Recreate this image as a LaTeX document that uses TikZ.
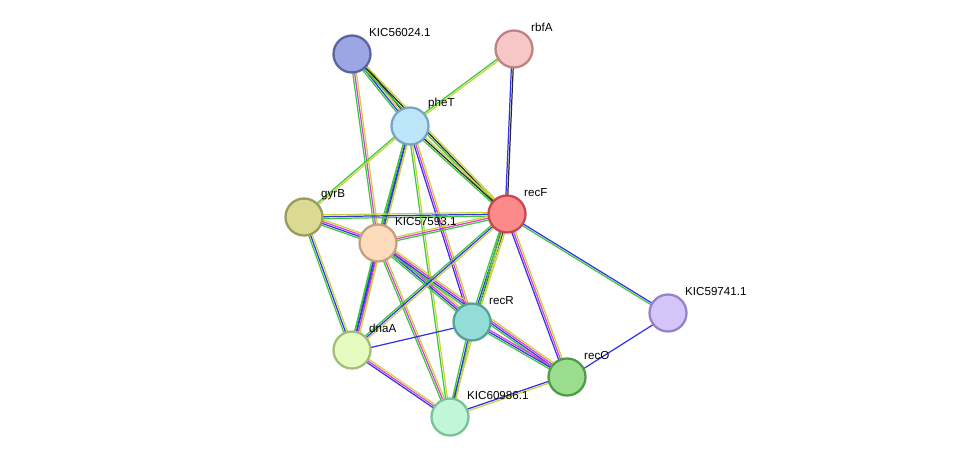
\documentclass[tikz,border=0pt]{standalone}
\usepackage{fontspec}
\setmainfont{Liberation Sans}
\usetikzlibrary{calc}
\usetikzlibrary{backgrounds}

\definecolor{eg}{RGB}{60,200,60}
\definecolor{eb}{RGB}{50,50,230}
\definecolor{em}{RGB}{220,60,220}
\definecolor{ey}{RGB}{200,210,60}
\definecolor{ek}{RGB}{40,40,40}

% one protein-protein link, drawn as parallel coloured strands
\newcommand\ppiedge[3]{%
  \foreach \c [count=\i] in {#3}{
    \draw [\c, line width=0.7pt]
      ($(#1)!{(\i-2)*1.05pt}!90:(#2)$) -- ($(#2)!{(\i-2)*1.05pt}!-90:(#1)$);
  }%
}

\begin{document}
\begin{tikzpicture}
  [
    x=0.02cm, y=-0.02cm,
    prot/.style={
       circle,
       minimum size=0.74cm,
       line width=1.3pt,
       inner sep=0pt
    },
    lbl/.style={
       anchor=south west,
       inner sep=0.5pt,
       font=\fontsize{6.6}{7}\selectfont
    }
  ]
  \useasboundingbox (0,0) rectangle (976,463);

  \node (kic56) at (352, 54) [prot, fill={rgb,255:red,155;green,166;blue,226}, draw={rgb,255:red,90;green,100;blue,160}] {};
  \node (rbfA)  at (514, 49) [prot, fill={rgb,255:red,247;green,198;blue,198}, draw={rgb,255:red,190;green,130;blue,130}] {};
  \node (pheT)  at (410,126) [prot, fill={rgb,255:red,190;green,230;blue,250}, draw={rgb,255:red,120;green,165;blue,195}] {};
  \node (recF)  at (507,214) [prot, fill={rgb,255:red,253;green,138;blue,138}, draw={rgb,255:red,200;green,70;blue,80}] {};
  \node (gyrB)  at (304,217) [prot, fill={rgb,255:red,218;green,218;blue,148}, draw={rgb,255:red,155;green,155;blue,90}] {};
  \node (kic57) at (378,243) [prot, fill={rgb,255:red,253;green,220;blue,189}, draw={rgb,255:red,195;green,160;blue,130}] {};
  \node (recR)  at (472,322) [prot, fill={rgb,255:red,148;green,220;blue,214}, draw={rgb,255:red,85;green,160;blue,155}] {};
  \node (kic59) at (668,313) [prot, fill={rgb,255:red,212;green,196;blue,248}, draw={rgb,255:red,150;green,130;blue,200}] {};
  \node (dnaA)  at (352,350) [prot, fill={rgb,255:red,228;green,252;blue,192}, draw={rgb,255:red,160;green,190;blue,120}] {};
  \node (recO)  at (567,377) [prot, fill={rgb,255:red,155;green,221;blue,143}, draw={rgb,255:red,80;green,155;blue,70}] {};
  \node (kic60) at (450,417) [prot, fill={rgb,255:red,193;green,247;blue,216}, draw={rgb,255:red,120;green,195;blue,150}] {};

  \node (tkic56) at (368,38)  [lbl] {KIC56024.1};
  \node (trbfA)  at (530,33)  [lbl] {rbfA};
  \node (tpheT)  at (427,110) [lbl] {pheT};
  \node (trecF)  at (523,198) [lbl] {recF};
  \node (tgyrB)  at (320,201) [lbl] {gyrB};
  \node (tkic57) at (394,227) [lbl] {KIC57593.1};
  \node (trecR)  at (488,306) [lbl] {recR};
  \node (tkic59) at (684,297) [lbl] {KIC59741.1};
  \node (tdnaA)  at (368,334) [lbl] {dnaA};
  \node (trecO)  at (583,361) [lbl] {recO};
  \node (tkic60) at (466,401) [lbl] {KIC60986.1};

  \begin{scope}[on background layer]
    \ppiedge{kic56}{pheT}{eg,eb,ey,ek}
    \ppiedge{kic56}{recF}{eg,ek,ey}
    \ppiedge{kic56}{kic57}{eg,em,ey}
    \ppiedge{rbfA}{pheT}{eg,ey}
    \ppiedge{rbfA}{recF}{eb,ek}
    \ppiedge{pheT}{recF}{eg,ek,ey}
    \ppiedge{pheT}{gyrB}{eg,ey}
    \ppiedge{pheT}{kic57}{eg,eb,ey}
    \ppiedge{pheT}{dnaA}{eg,eb,ey}
    \ppiedge{pheT}{recR}{eb,em,ey}
    \ppiedge{pheT}{kic60}{eg,ey}
    \ppiedge{gyrB}{recF}{eg,eb,ey}
    \ppiedge{gyrB}{kic57}{eg,eb,em,ey}
    \ppiedge{gyrB}{dnaA}{eg,eb,ey}
    \ppiedge{kic57}{recF}{eg,em,ey}
    \ppiedge{kic57}{dnaA}{eg,eb,em,ey}
    \ppiedge{kic57}{recR}{eg,eb,em,ey}
    \ppiedge{kic57}{recO}{eg,eb,em,ey}
    \ppiedge{kic57}{kic60}{eg,em,ey}
    \ppiedge{recF}{dnaA}{eg,eb,ey}
    \ppiedge{recF}{recR}{eg,eb,ek,ey}
    \ppiedge{recF}{recO}{eb,em,ey}
    \ppiedge{recF}{kic59}{eg,eb}
    \ppiedge{recF}{kic60}{eg,ey}
    \ppiedge{recR}{recO}{eg,eb,em}
    \ppiedge{recR}{kic60}{eg,eb,ey}
    \ppiedge{dnaA}{recR}{eb}
    \ppiedge{dnaA}{kic60}{eb,em,ey}
    \ppiedge{recO}{kic59}{eb}
    \ppiedge{recO}{kic60}{eb,ey}
  \end{scope}
\end{tikzpicture}
\end{document}
